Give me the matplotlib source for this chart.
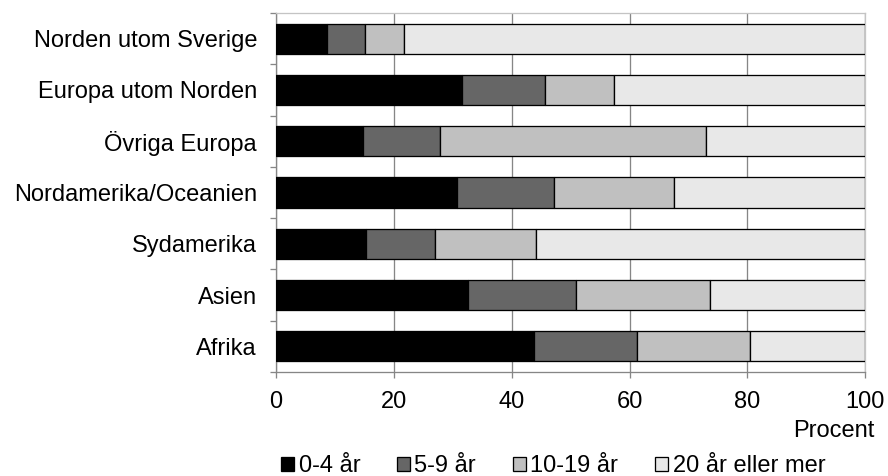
import matplotlib
matplotlib.use("Agg")
import matplotlib.pyplot as plt
import numpy as np

plt.rcParams['font.family'] = ['Liberation Sans', 'DejaVu Sans']

categories = ["Norden utom Sverige", "Europa utom Norden", "Övriga Europa",
              "Nordamerika/Oceanien", "Sydamerika", "Asien", "Afrika"]
series_names = ["0-4 år", "5-9 år", "10-19 år", "20 år eller mer"]
# cumulative boundaries
cum_04 = [8.6, 31.6, 14.7, 30.7, 15.2, 32.5, 43.7]
cum_59 = [15.1, 45.6, 27.8, 47.1, 26.9, 50.9, 61.3]
cum_1019 = [21.7, 57.4, 72.9, 67.5, 44.1, 73.6, 80.4]
v04 = np.array(cum_04)
v59 = np.array(cum_59) - np.array(cum_04)
v1019 = np.array(cum_1019) - np.array(cum_59)
v20 = 100 - np.array(cum_1019)
values = [v04, v59, v1019, v20]
colors = ["#000000", "#666666", "#c0c0c0", "#e8e8e8"]

FS = 17
PX = 0.72  # points per pixel at 100 dpi

fig = plt.figure(figsize=(8.88, 4.76), dpi=100)
W, H = 888, 476
ax = fig.add_axes([276 / W, 1 - 372 / H, (865.3 - 276) / W, (372 - 13) / H])

y = np.arange(len(categories))
left = np.zeros(len(categories))
for vals, col, name in zip(values, colors, series_names):
    ax.barh(y, vals, left=left, height=0.59, color=col, edgecolor="black",
            linewidth=1.3 * PX, label=name, zorder=3)
    left = left + vals

ax.set_xlim(0, 100)
ax.set_ylim(len(categories) - 0.5, -0.5)
ax.set_xticks([0, 20, 40, 60, 80, 100])
ax.set_yticks(y)
ax.set_yticklabels(categories)
ax.set_yticks(np.arange(-0.5, len(categories)), minor=True)
ax.tick_params(axis='y', which='major', length=0, pad=19 * PX, labelsize=FS)
ax.tick_params(axis='y', which='minor', length=6 * PX, color="#868686", width=1.3 * PX)
ax.tick_params(axis='x', which='major', length=6 * PX, color="#868686", width=1.3 * PX,
               labelsize=FS, pad=13 * PX)
ax.grid(axis='x', color="#868686", linewidth=1.3 * PX, zorder=0)
ax.set_axisbelow(True)
for s in ["left", "bottom"]:
    ax.spines[s].set_color("#868686")
    ax.spines[s].set_linewidth(1.3 * PX)
for s in ["top", "right"]:
    ax.spines[s].set_color("#c4c4c4")
    ax.spines[s].set_linewidth(1.3 * PX)

fig.text(874 / W, 1 - 431 / H, "Procent", ha="right", va="center", fontsize=FS)

fig.legend(loc="center", bbox_to_anchor=(553 / W, 1 - 466 / H), ncol=4,
           frameon=False, fontsize=FS, handlelength=0.55, handleheight=0.55,
           handletextpad=0.2, columnspacing=1.55, borderaxespad=0, borderpad=0)

fig.savefig("out.png", dpi=100)
